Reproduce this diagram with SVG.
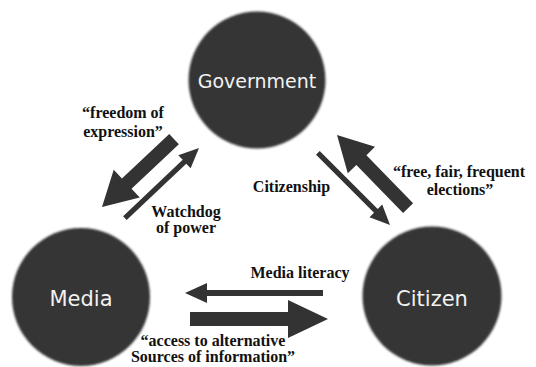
<svg xmlns="http://www.w3.org/2000/svg" width="536" height="367" viewBox="0 0 536 367">
  <defs>
    <style>
      .node { fill: #363636; filter: url(#soft); }
      .ntext { font-family: "DejaVu Sans", Verdana, sans-serif; fill: #f2f2f2; text-anchor: middle; }
      .lbl { font-family: "Liberation Serif", serif; font-weight: bold; font-size: 16px; fill: #111; text-anchor: middle; }
      .arr { fill: #333; }
    </style>
    <filter id="soft" x="-10%" y="-10%" width="120%" height="120%">
      <feGaussianBlur stdDeviation="0.8"/>
    </filter>
  </defs>
  <rect width="536" height="367" fill="#fff"/>

  <g id="government">
    <circle class="node" cx="257" cy="80" r="68.5"/>
    <text class="ntext" x="257" y="88" font-size="19">Government</text>
  </g>
  <g id="media">
    <circle class="node" cx="81" cy="297" r="69"/>
    <text class="ntext" x="81" y="306" font-size="21">Media</text>
  </g>
  <g id="citizen">
    <circle class="node" cx="432" cy="296" r="69.5"/>
    <text class="ntext" x="432" y="306" font-size="21">Citizen</text>
  </g>

  <g id="connectors">
    <polygon class="arr" transform="translate(102,207) rotate(136.7)" points="-99,-7 -34,-7 -34,-19 0,0 -34,19 -34,7 -99,7"/>
    <polygon class="arr" transform="translate(199,148) rotate(-43.4)" points="-102,-2.6 -20,-2.6 -20,-9 0,0 -20,9 -20,2.6 -102,2.6"/>
    <polygon class="arr" transform="translate(390,225) rotate(45)" points="-102,-2.6 -20,-2.6 -20,-9 0,0 -20,9 -20,2.6 -102,2.6"/>
    <polygon class="arr" transform="translate(337,135) rotate(-134.2)" points="-102,-7 -35,-7 -35,-19 0,0 -35,19 -35,7 -102,7"/>
    <polygon class="arr" transform="translate(185,293) rotate(180)" points="-138,-3 -22,-3 -22,-10 0,0 -22,10 -22,3 -138,3"/>
    <polygon class="arr" transform="translate(328,319) rotate(0)" points="-138,-7 -40,-7 -40,-19 0,0 -40,19 -40,7 -138,7"/>
  </g>

  <g id="labels" font-family="Liberation Serif, serif" font-weight="bold">
    <text class="lbl" x="123" y="118">“freedom of</text>
    <text class="lbl" x="123" y="137">expression”</text>
    <text class="lbl" x="186" y="217">Watchdog</text>
    <text class="lbl" x="186" y="233">of power</text>
    <text class="lbl" x="291.5" y="192">Citizenship</text>
    <text class="lbl" x="459" y="177">“free, fair, frequent</text>
    <text class="lbl" x="460" y="195">elections”</text>
    <text class="lbl" x="300" y="278">Media literacy</text>
    <text class="lbl" x="213" y="346">“access to alternative</text>
    <text class="lbl" x="213" y="362">Sources of information”</text>
  </g>
</svg>
